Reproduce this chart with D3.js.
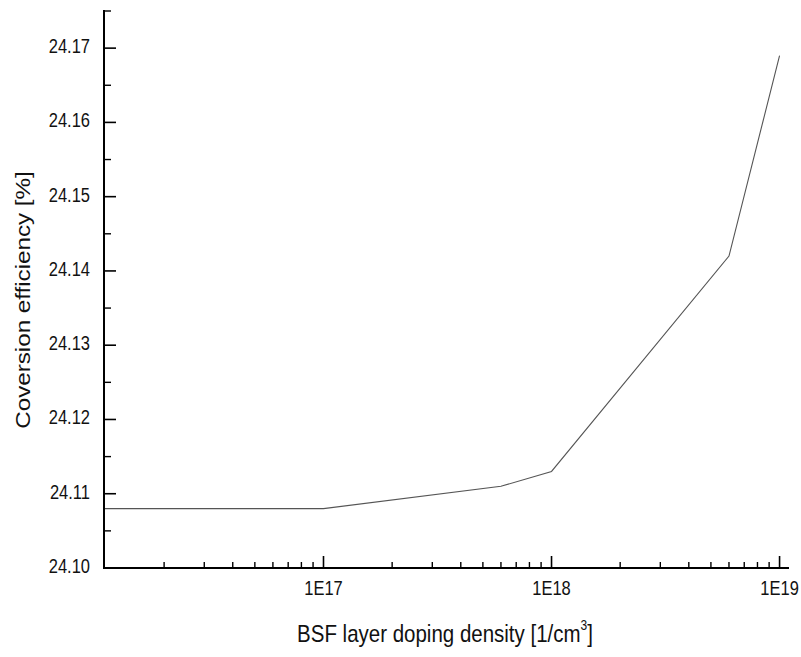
<!DOCTYPE html>
<html><head><meta charset="utf-8">
<script src="https://cdn.jsdelivr.net/npm/d3@7"></script>
<style>body{margin:0;background:#fff}svg{display:block}text{font-family:"Liberation Sans",Arial,sans-serif}</style>
</head><body><svg id="c" width="801" height="657"></svg>
<script>
const dopingDensity = [1.09e16, 1e17, 6e17, 1e18, 6e18, 1e19];
const efficiency = [24.108, 24.108, 24.111, 24.113, 24.142, 24.169];
const xTickValues = [1e17, 1e18, 1e19];
const xTickLabels = ["1E17", "1E18", "1E19"];
const yTickValues = [24.10, 24.11, 24.12, 24.13, 24.14, 24.15, 24.16, 24.17];
const xTitle = "BSF layer doping density [1/cm";
const yTitle = "Coversion efficiency [%]";

const SY = 1.18; // vertical stretch of the original picture
const svg = d3.select("#c");
const x = d3.scaleLog().domain([1.09e16, 1.1e19]).range([104, 789]);
const y = d3.scaleLinear().domain([24.10, 24.175]).range([568, 11]);

const minorX = [];
for (let e = 16; e <= 18; e++) for (let m = 2; m <= 9; m++) {
  const v = m * Math.pow(10, e);
  if (v >= x.domain()[0] && v <= x.domain()[1]) minorX.push(v);
}
const minorY = d3.range(0, 8).map(i => 24.105 + i * 0.01).filter(v => v <= 24.1751);

const g = svg.append("g");
g.append("path")
  .datum(dopingDensity.map((d, i) => [d, efficiency[i]]))
  .attr("fill", "none").attr("stroke", "#555").attr("stroke-width", 1.1)
  .attr("d", d3.line().x(d => x(d[0])).y(d => y(d[1])));

g.append("line").attr("x1", 103).attr("x2", 789).attr("y1", 568).attr("y2", 568).attr("stroke", "#000").attr("stroke-width", 2);
g.append("line").attr("x1", 104).attr("x2", 104).attr("y1", 10).attr("y2", 569).attr("stroke", "#000").attr("stroke-width", 2);

g.selectAll(".xmaj").data(xTickValues).enter().append("line")
  .attr("x1", d => x(d)).attr("x2", d => x(d)).attr("y1", 568).attr("y2", 556).attr("stroke", "#000").attr("stroke-width", 1.6);
g.selectAll(".xmin").data(minorX).enter().append("line")
  .attr("x1", d => x(d)).attr("x2", d => x(d)).attr("y1", 568).attr("y2", 562).attr("stroke", "#000").attr("stroke-width", 1.4);
g.selectAll(".xl").data(xTickValues).enter().append("text")
  .attr("transform", d => `translate(${x(d)},595) scale(1,${SY})`)
  .attr("text-anchor", "middle").attr("font-size", 16.5).attr("fill", "#111")
  .text((d, i) => xTickLabels[i]);

g.selectAll(".ymaj").data(yTickValues).enter().append("line")
  .attr("x1", 104).attr("x2", 116).attr("y1", d => y(d)).attr("y2", d => y(d)).attr("stroke", "#000").attr("stroke-width", 1.6);
g.selectAll(".ymin").data(minorY).enter().append("line")
  .attr("x1", 104).attr("x2", 111).attr("y1", d => y(d)).attr("y2", d => y(d)).attr("stroke", "#000").attr("stroke-width", 1.4);
g.selectAll(".yl").data(yTickValues).enter().append("text")
  .attr("transform", d => `translate(90,${y(d) + 5}) scale(1,${SY})`)
  .attr("text-anchor", "end").attr("font-size", 16.5).attr("fill", "#111")
  .text(d => d.toFixed(2));

const xt = svg.append("text").attr("transform", `translate(445,642) scale(1,${SY})`)
  .attr("text-anchor", "middle").attr("font-size", 20.5).attr("fill", "#111");
xt.append("tspan").text(xTitle);
xt.append("tspan").attr("dy", -10).attr("font-size", 12).text("3");
xt.append("tspan").attr("dy", 10).text("]");

svg.append("text").attr("transform", `translate(30,300) scale(1,${SY}) rotate(-90)`).attr("text-anchor", "middle")
  .attr("font-size", 20.5).attr("fill", "#111").text(yTitle);
</script></body></html>
